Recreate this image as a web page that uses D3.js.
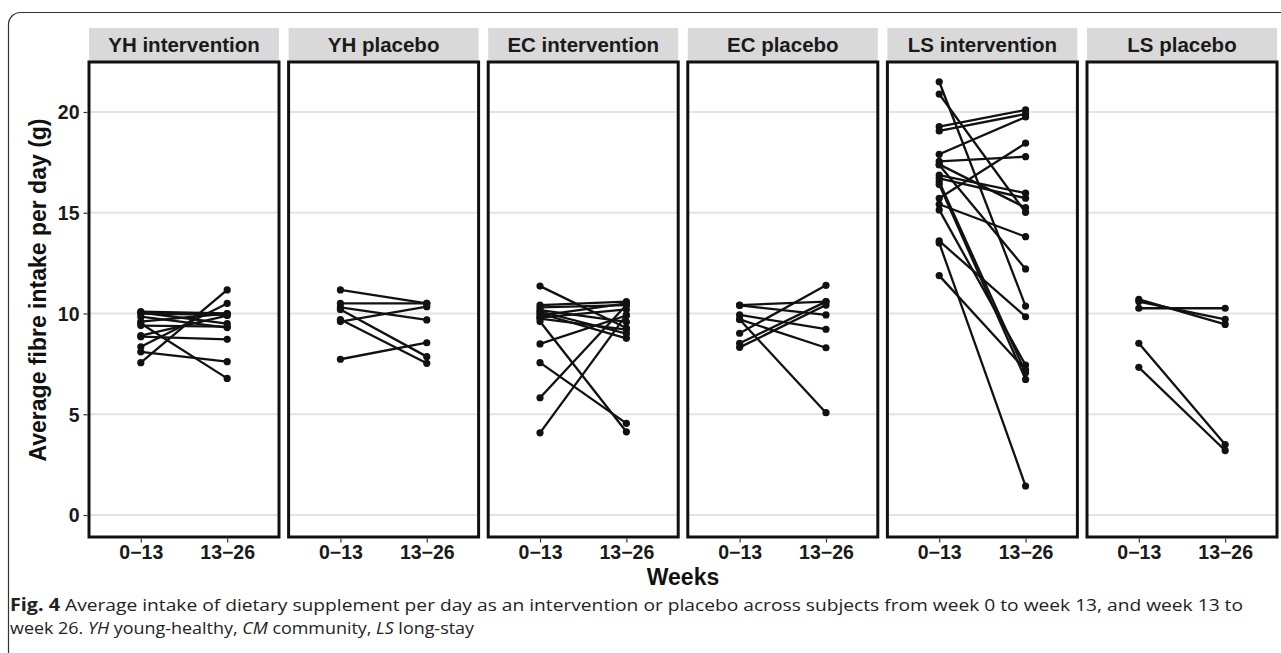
<!DOCTYPE html>
<html><head><meta charset="utf-8">
<script src="https://cdn.jsdelivr.net/npm/d3@7"></script>
<style>body{margin:0;background:#fff}svg{display:block}</style>
</head><body>
<svg id="c" width="1281" height="653"></svg>
<script>
const panels = ["YH intervention","YH placebo","EC intervention","EC placebo","LS intervention","LS placebo"];
const periods = ["0−13","13−26"];
const yTicks = [0,5,10,15,20];
// each series: [week 0-13 value, week 13-26 value] per subject
const yhIntervention = [[7.56,11.17],[8.35,10.5],[8.1,7.61],[9.5,6.78],[8.85,8.72],[10.09,10.0],[10.0,9.93],[9.84,9.3],[10.05,9.5],[9.6,10.0],[9.4,9.35],[8.9,9.9]];
const yhPlacebo = [[11.17,10.5],[10.5,10.5],[10.3,9.68],[9.6,10.34],[7.73,8.55],[10.2,7.86],[9.7,7.53]];
const ecIntervention = [[11.36,9.28],[10.42,10.59],[10.3,10.42],[10.17,9.58],[10.0,8.77],[9.9,10.5],[9.75,9.2],[9.6,4.13],[8.49,9.9],[7.56,4.55],[5.82,10.42],[4.08,9.93],[10.1,9.0],[9.8,10.2]];
const ecPlacebo = [[10.42,10.59],[10.4,9.93],[9.93,9.22],[9.71,8.3],[9.7,5.08],[9.02,11.4],[8.52,10.59],[8.32,10.42]];
const lsIntervention = [[21.5,10.37],[20.89,15.02],[19.27,20.1],[19.06,19.9],[17.9,19.75],[17.55,17.78],[17.37,12.21],[16.87,15.97],[16.71,15.72],[16.54,7.06],[15.72,18.45],[15.42,13.81],[15.14,7.44],[13.6,9.84],[13.5,1.44],[11.88,7.2],[17.4,15.25],[16.4,6.73]];
const lsPlacebo = [[10.7,9.46],[10.59,9.71],[10.26,10.26],[8.52,3.5],[7.33,3.2]];
const seriesByPanel = [yhIntervention,yhPlacebo,ecIntervention,ecPlacebo,lsIntervention,lsPlacebo];

const svg = d3.select("#c");
const font = "'Liberation Sans', Arial, sans-serif";
const left0 = 89, pw = 190, gap = 9.6, pTop = 62, pBottom = 537, stripTop = 28, stripH = 33;

// figure frame
svg.append("rect").attr("x",8.5).attr("y",12.5).attr("width",1300).attr("height",700)
  .attr("rx",12).attr("fill","none").attr("stroke","#333").attr("stroke-width",1.2);

const y = d3.scaleLinear().domain([-1.09,22.48]).range([pBottom,pTop]);

panels.forEach((name,i)=>{
  const x0 = left0 + i*(pw+gap);
  const g = svg.append("g").attr("transform",`translate(${x0},0)`);
  const x = d3.scalePoint().domain(periods).range([0,pw]).padding(0.6);
  // strip
  g.append("rect").attr("x",0).attr("y",stripTop).attr("width",pw).attr("height",stripH).attr("fill","#d9d9d9");
  g.append("text").attr("x",pw/2).attr("y",stripTop+stripH/2+7.5).attr("text-anchor","middle")
    .attr("font-family",font).attr("font-weight","bold").attr("font-size",20.5).attr("fill","#1a1a1a").text(name);
  // grid
  g.selectAll("line.grid").data(yTicks).join("line").attr("class","grid")
    .attr("x1",0).attr("x2",pw).attr("y1",d=>y(d)).attr("y2",d=>y(d))
    .attr("stroke","#e3e3e3").attr("stroke-width",2);
  // data
  const data = seriesByPanel[i];
  g.selectAll("line.seg").data(data).join("line").attr("class","seg")
    .attr("x1",x(periods[0])).attr("x2",x(periods[1]))
    .attr("y1",d=>y(d[0])).attr("y2",d=>y(d[1]))
    .attr("stroke","#111").attr("stroke-width",2.3);
  data.forEach(d=>{
    d.forEach((v,k)=>{
      g.append("circle").attr("cx",x(periods[k])).attr("cy",y(v)).attr("r",3.6).attr("fill","#111");
    });
  });
  // panel border
  g.append("rect").attr("x",0).attr("y",pTop).attr("width",pw).attr("height",pBottom-pTop)
    .attr("fill","none").attr("stroke","#111").attr("stroke-width",3);
  // x axis
  const xa = g.append("g").attr("transform",`translate(0,${pBottom+1.5})`)
    .call(d3.axisBottom(x).tickSize(4).tickPadding(3));
  xa.select(".domain").remove();
  xa.selectAll("line").attr("stroke","#333").attr("stroke-width",1.2);
  xa.selectAll("text").attr("font-family",font).attr("font-weight","bold").attr("font-size",19.5).attr("fill","#1a1a1a");
  if(i===0){
    const ya = g.append("g").attr("transform","translate(-1.5,0)")
      .call(d3.axisLeft(y).tickValues(yTicks).tickSize(4).tickPadding(4));
    ya.select(".domain").remove();
    ya.selectAll("line").attr("stroke","#333").attr("stroke-width",1.2);
    ya.selectAll("text").attr("font-family",font).attr("font-weight","bold").attr("font-size",19.5).attr("fill","#1a1a1a").attr("dy","0.35em");
  }
});

// axis titles
svg.append("text").attr("x",683).attr("y",585).attr("text-anchor","middle")
  .attr("font-family",font).attr("font-weight","bold").attr("font-size",23).attr("fill","#111").text("Weeks");
svg.append("text").attr("transform","translate(46,290) rotate(-90)").attr("text-anchor","middle")
  .attr("font-family",font).attr("font-weight","bold").attr("font-size",23).attr("fill","#111")
  .text("Average fibre intake per day (g)");

// caption
const capFont = "'Open Sans', 'Noto Sans', sans-serif";
svg.append("text").attr("x",10).attr("y",611).attr("font-family",capFont).attr("font-weight","bold")
  .attr("font-size",17).attr("fill","#222").attr("textLength",50).attr("lengthAdjust","spacingAndGlyphs").text("Fig. 4");
svg.append("text").attr("x",65).attr("y",611).attr("font-family",capFont)
  .attr("font-size",17).attr("fill","#222").attr("textLength",1178).attr("lengthAdjust","spacingAndGlyphs")
  .text("Average intake of dietary supplement per day as an intervention or placebo across subjects from week 0 to week 13, and week 13 to");
const l2 = svg.append("text").attr("x",10).attr("y",634).attr("font-family",capFont)
  .attr("font-size",17).attr("fill","#222").attr("textLength",464).attr("lengthAdjust","spacingAndGlyphs");
[["week 26. ",false],["YH",true],[" young-healthy, ",false],["CM",true],[" community, ",false],["LS",true],[" long-stay",false]]
  .forEach(([t,it])=>l2.append("tspan").attr("font-style",it?"italic":"normal").text(t));
</script>
</body></html>
